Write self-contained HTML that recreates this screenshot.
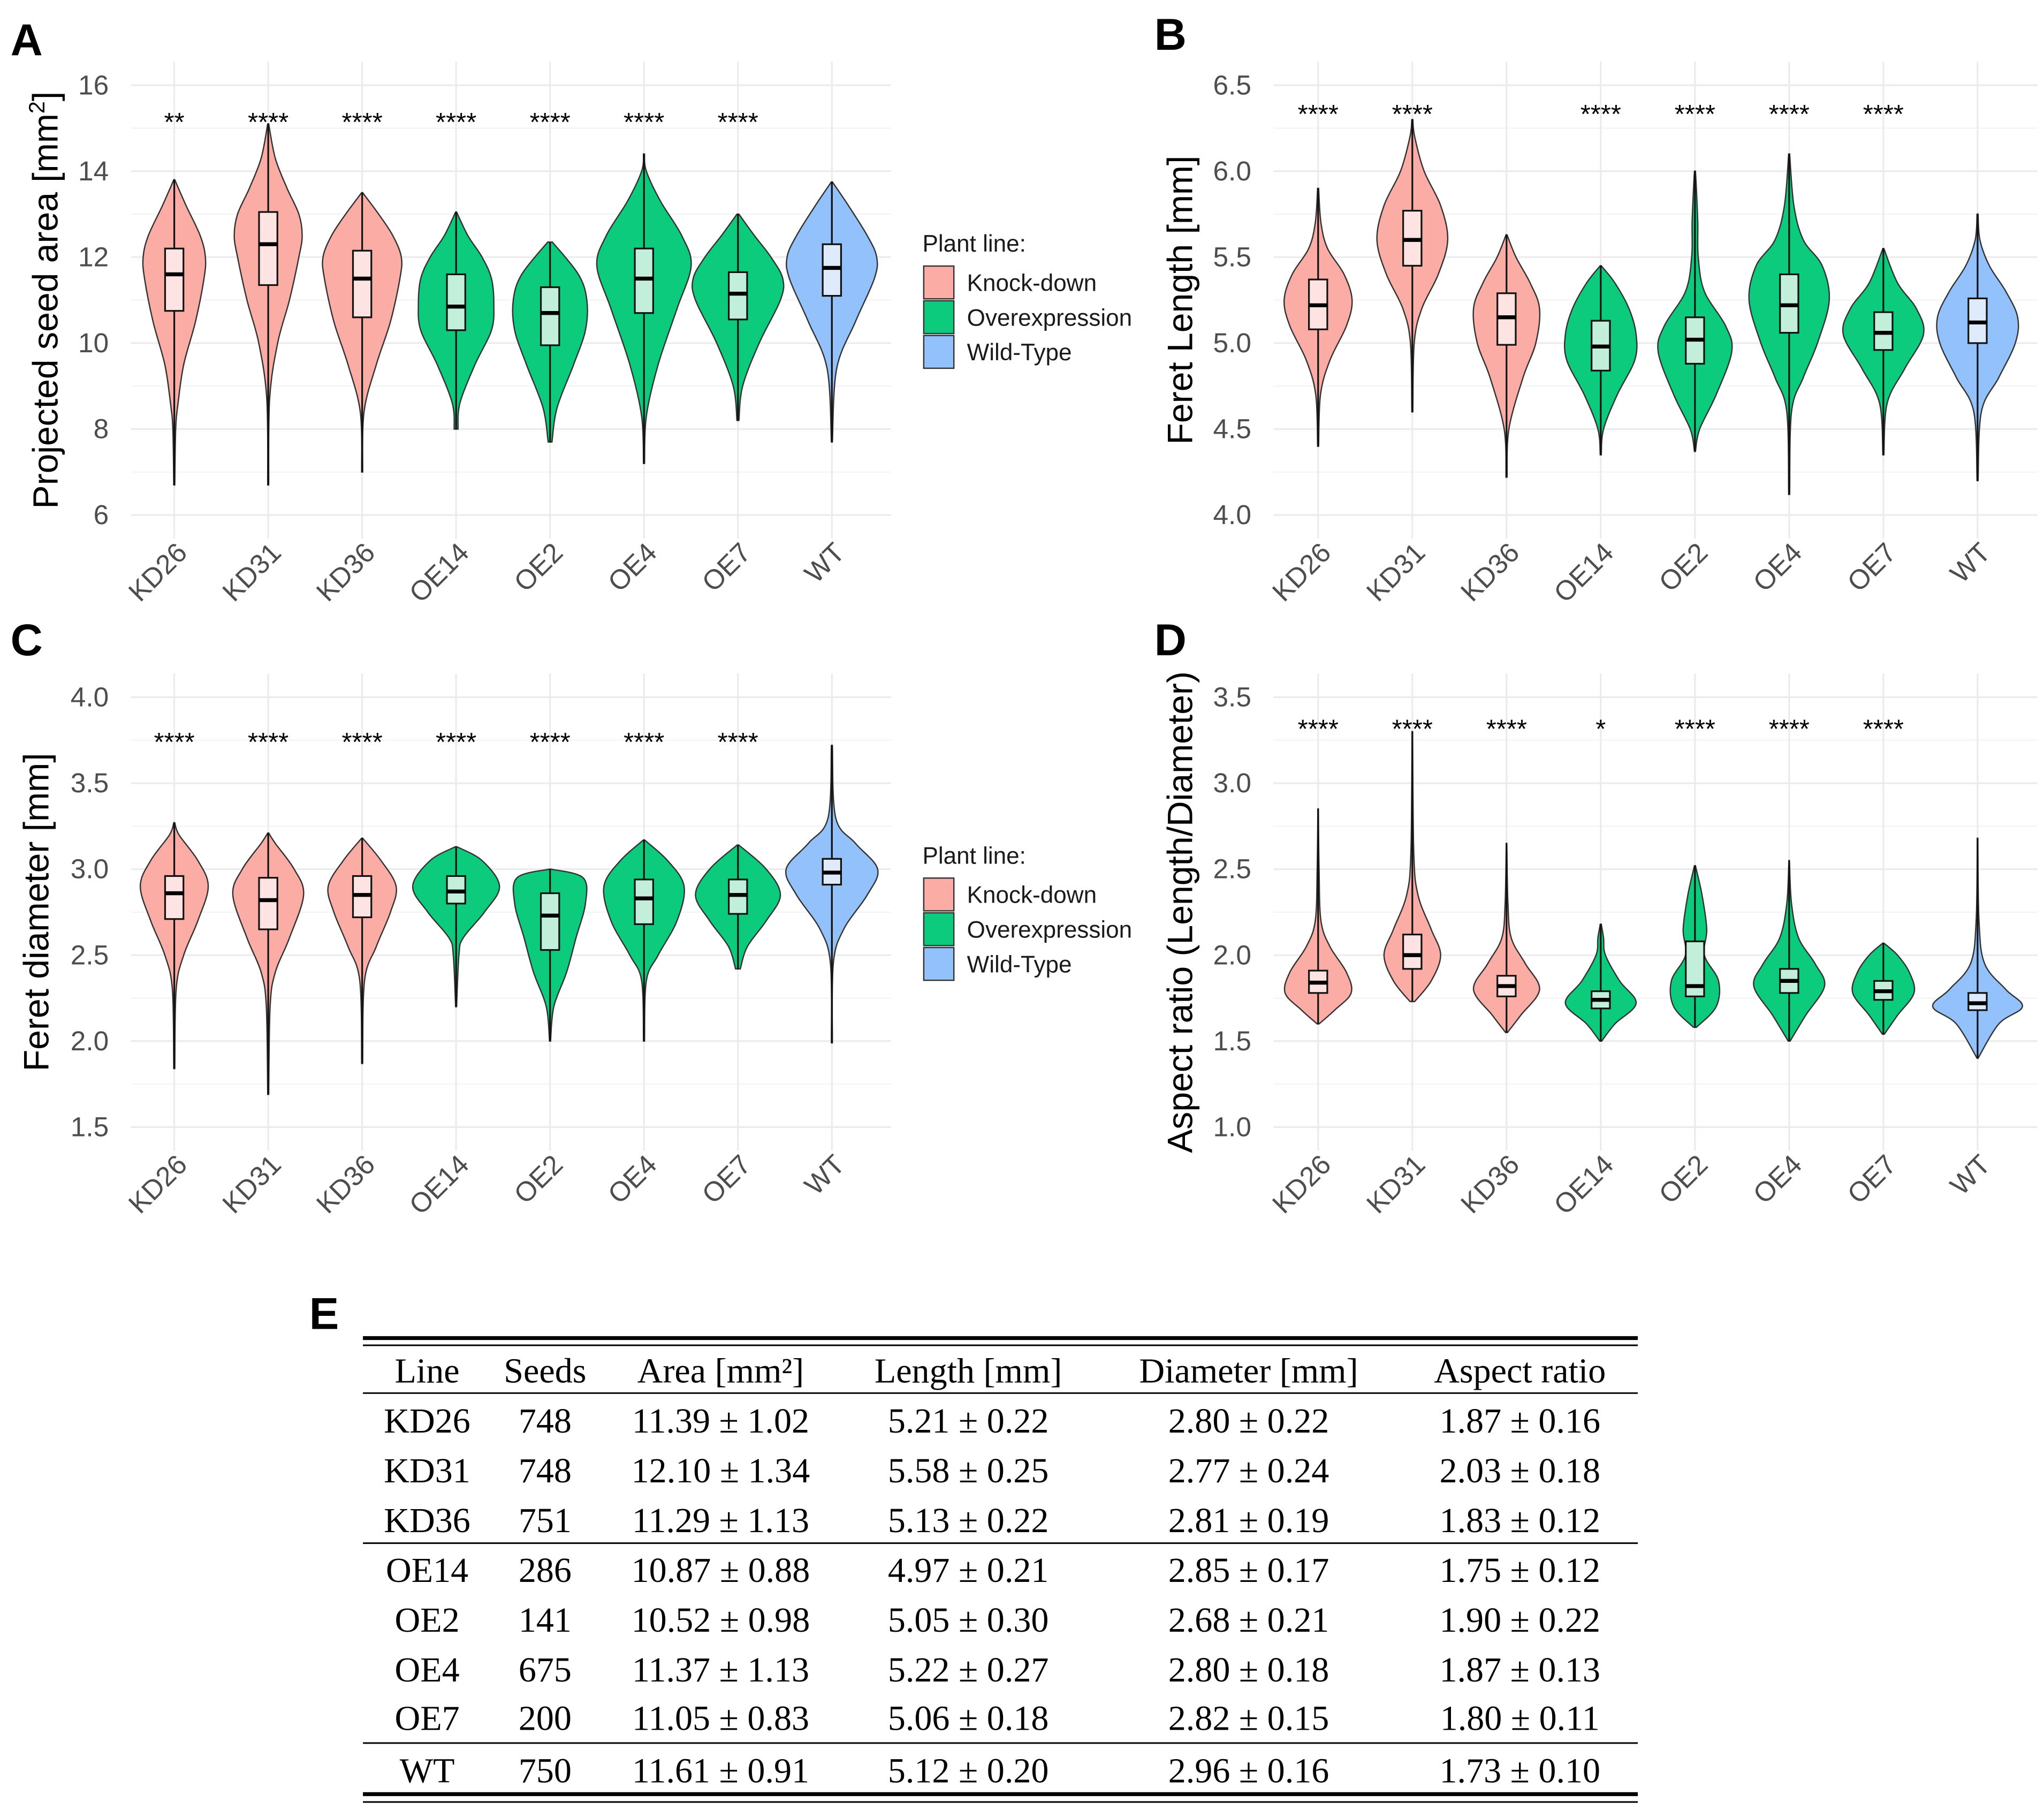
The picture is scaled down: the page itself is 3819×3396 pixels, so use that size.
<!DOCTYPE html>
<html><head><meta charset="utf-8"><style>
html,body{margin:0;padding:0;background:#fff}
svg{display:block}
.tk{font-family:"Liberation Sans",sans-serif;font-size:21px;fill:#4d4d4d}
.tt{font-family:"Liberation Sans",sans-serif;font-size:27px;fill:#000}
.lg{font-family:"Liberation Sans",sans-serif;font-size:18px;fill:#1a1a1a}
.pl{font-family:"Liberation Sans",sans-serif;font-size:34px;font-weight:bold;fill:#000}
.st{font-family:"Liberation Sans",sans-serif;font-size:20px;fill:#000}
.tb{font-family:"Liberation Serif",serif;font-size:27px;fill:#000}
</style></head><body>
<svg id="fig" width="3819" height="3396" viewBox="0 0 1560 1387.2" preserveAspectRatio="none" xmlns="http://www.w3.org/2000/svg"></svg>
<script>
const categories=["KD26","KD31","KD36","OE14","OE2","OE4","OE7","WT"];
const groups=["k","k","k","o","o","o","o","w"];
// Panel A
const aTicks=[6,8,10,12,14,16];
const aStars=["**","****","****","****","****","****","****",""];
const aMin=[6.7,6.7,7.0,8.0,7.7,7.2,8.2,7.7];
const aMax=[13.8,15.1,13.5,13.05,12.35,14.4,13.0,13.75];
const aQ1=[10.75,11.35,10.6,10.3,9.95,10.7,10.55,11.1];
const aMed=[11.6,12.3,11.5,10.85,10.7,11.5,11.15,11.75];
const aQ3=[12.2,13.05,12.15,11.6,11.3,12.2,11.65,12.3];
const aDens=[
[[6.7,0.01],[8,0.03],[8.6,0.08],[9.5,0.2],[10.5,0.45],[11.5,0.63],[12,0.66],[12.5,0.55],[13.2,0.25],[13.8,0.01]],
[[6.7,0.01],[8.7,0.03],[10,0.2],[11,0.45],[12,0.65],[12.5,0.72],[13,0.65],[13.6,0.4],[14.3,0.15],[15.1,0.01]],
[[7,0.01],[8.4,0.04],[9.5,0.3],[10.5,0.6],[11.5,0.8],[12,0.83],[12.5,0.65],[13,0.35],[13.5,0.01]],
[[8,0.04],[8.6,0.08],[9.5,0.4],[10.3,0.75],[10.9,0.8],[11.5,0.75],[12,0.55],[12.5,0.25],[13.05,0.01]],
[[7.7,0.04],[8.5,0.15],[9.5,0.5],[10.3,0.75],[11,0.78],[11.6,0.6],[12.35,0.05]],
[[7.2,0.01],[8.3,0.05],[9.5,0.3],[10.8,0.7],[11.8,1.0],[12.5,0.8],[13.3,0.35],[14,0.05],[14.4,0.01]],
[[8.2,0.02],[9,0.1],[10,0.45],[11,0.9],[11.5,0.95],[12,0.7],[12.5,0.35],[13,0.02]],
[[7.7,0.01],[9.4,0.1],[10.5,0.5],[11.5,0.9],[12,0.95],[12.5,0.75],[13.2,0.35],[13.75,0.01]]];
// Panel B
const bTicks=[4.0,4.5,5.0,5.5,6.0,6.5];
const bStars=["****","****","","****","****","****","****",""];
const bMin=[4.4,4.6,4.22,4.35,4.37,4.12,4.35,4.2];
const bMax=[5.9,6.3,5.63,5.45,6.0,6.1,5.55,5.75];
const bQ1=[5.08,5.45,4.99,4.84,4.88,5.06,4.96,5.0];
const bMed=[5.22,5.6,5.15,4.98,5.02,5.22,5.06,5.12];
const bQ3=[5.37,5.77,5.29,5.13,5.15,5.4,5.18,5.26];
const bDens=[
[[4.4,0.01],[4.7,0.05],[4.9,0.25],[5.1,0.6],[5.25,0.72],[5.4,0.55],[5.55,0.2],[5.7,0.06],[5.9,0.01]],
[[4.6,0.01],[5.0,0.04],[5.2,0.2],[5.4,0.55],[5.6,0.75],[5.8,0.6],[6.0,0.25],[6.2,0.05],[6.3,0.01]],
[[4.22,0.01],[4.5,0.05],[4.8,0.35],[5.0,0.62],[5.2,0.7],[5.35,0.5],[5.5,0.2],[5.63,0.01]],
[[4.35,0.01],[4.5,0.06],[4.7,0.35],[4.9,0.72],[5.05,0.75],[5.2,0.6],[5.35,0.3],[5.45,0.01]],
[[4.37,0.01],[4.5,0.1],[4.7,0.45],[4.95,0.78],[5.1,0.65],[5.3,0.2],[5.5,0.07],[5.7,0.06],[5.9,0.03],[6.0,0.01]],
[[4.12,0.01],[4.6,0.05],[4.8,0.3],[5.0,0.6],[5.25,0.85],[5.45,0.7],[5.6,0.3],[5.8,0.1],[6.1,0.01]],
[[4.35,0.01],[4.65,0.08],[4.85,0.45],[5.05,0.85],[5.2,0.7],[5.35,0.3],[5.55,0.01]],
[[4.2,0.01],[4.6,0.08],[4.8,0.45],[5.0,0.8],[5.15,0.85],[5.3,0.6],[5.45,0.25],[5.6,0.05],[5.75,0.01]]];
// Panel C
const cTicks=[1.5,2.0,2.5,3.0,3.5,4.0];
const cStars=["****","****","****","****","****","****","****",""];
const cMin=[1.84,1.69,1.87,2.2,2.0,2.0,2.42,1.99];
const cMax=[3.27,3.21,3.18,3.13,3.0,3.17,3.14,3.72];
const cQ1=[2.71,2.65,2.72,2.8,2.53,2.68,2.74,2.91];
const cMed=[2.86,2.82,2.85,2.87,2.73,2.83,2.85,2.98];
const cQ3=[2.96,2.95,2.96,2.96,2.86,2.94,2.94,3.06];
const cDens=[
[[1.84,0.01],[2.3,0.04],[2.5,0.2],[2.7,0.5],[2.9,0.72],[3.05,0.5],[3.2,0.1],[3.27,0.01]],
[[1.69,0.01],[2.2,0.04],[2.4,0.15],[2.6,0.45],[2.85,0.75],[3.0,0.55],[3.15,0.15],[3.21,0.01]],
[[1.87,0.01],[2.35,0.05],[2.55,0.3],[2.75,0.6],[2.9,0.72],[3.05,0.4],[3.18,0.01]],
[[2.2,0.01],[2.5,0.06],[2.6,0.15],[2.75,0.6],[2.9,0.92],[3.05,0.55],[3.13,0.02]],
[[2.0,0.01],[2.2,0.08],[2.4,0.35],[2.6,0.55],[2.8,0.75],[2.95,0.7],[3.0,0.02]],
[[2.0,0.01],[2.35,0.05],[2.5,0.3],[2.7,0.7],[2.9,0.85],[3.05,0.5],[3.17,0.01]],
[[2.42,0.05],[2.55,0.2],[2.7,0.6],[2.85,0.9],[3.0,0.6],[3.14,0.02]],
[[1.99,0.01],[2.45,0.03],[2.65,0.25],[2.85,0.75],[3.0,0.97],[3.15,0.5],[3.3,0.08],[3.72,0.01]]];
// Panel D
const dTicks=[1.0,1.5,2.0,2.5,3.0,3.5];
const dStars=["****","****","****","*","****","****","****",""];
const dMin=[1.6,1.73,1.55,1.5,1.58,1.5,1.54,1.4];
const dMax=[2.85,3.3,2.65,2.18,2.52,2.55,2.07,2.68];
const dQ1=[1.78,1.92,1.76,1.69,1.76,1.78,1.74,1.68];
const dMed=[1.84,2.0,1.82,1.74,1.82,1.85,1.79,1.72];
const dQ3=[1.91,2.12,1.88,1.79,2.08,1.92,1.85,1.78];
const dDens=[
[[1.6,0.02],[1.68,0.35],[1.78,0.7],[1.9,0.6],[2.05,0.25],[2.2,0.06],[2.5,0.02],[2.85,0.005]],
[[1.73,0.05],[1.85,0.4],[2.0,0.6],[2.15,0.4],[2.35,0.12],[2.6,0.03],[3.3,0.005]],
[[1.55,0.02],[1.65,0.3],[1.8,0.7],[1.95,0.4],[2.1,0.1],[2.3,0.03],[2.65,0.005]],
[[1.5,0.02],[1.6,0.3],[1.72,0.75],[1.85,0.4],[2.0,0.1],[2.1,0.06],[2.18,0.01]],
[[1.58,0.03],[1.7,0.45],[1.85,0.5],[2.0,0.2],[2.15,0.25],[2.35,0.15],[2.52,0.01]],
[[1.5,0.02],[1.65,0.35],[1.82,0.75],[1.95,0.55],[2.1,0.2],[2.3,0.05],[2.55,0.005]],
[[1.54,0.02],[1.65,0.3],[1.78,0.65],[1.9,0.55],[2.0,0.3],[2.07,0.01]],
[[1.4,0.01],[1.6,0.45],[1.7,0.95],[1.8,0.6],[1.95,0.15],[2.2,0.03],[2.68,0.005]]];
// Table
const tHeader=["Line","Seeds","Area [mm²]","Length [mm]","Diameter [mm]","Aspect ratio"];
const tRows=[
["KD26","748","11.39 ± 1.02","5.21 ± 0.22","2.80 ± 0.22","1.87 ± 0.16"],
["KD31","748","12.10 ± 1.34","5.58 ± 0.25","2.77 ± 0.24","2.03 ± 0.18"],
["KD36","751","11.29 ± 1.13","5.13 ± 0.22","2.81 ± 0.19","1.83 ± 0.12"],
["OE14","286","10.87 ± 0.88","4.97 ± 0.21","2.85 ± 0.17","1.75 ± 0.12"],
["OE2","141","10.52 ± 0.98","5.05 ± 0.30","2.68 ± 0.21","1.90 ± 0.22"],
["OE4","675","11.37 ± 1.13","5.22 ± 0.27","2.80 ± 0.18","1.87 ± 0.13"],
["OE7","200","11.05 ± 0.83","5.06 ± 0.18","2.82 ± 0.15","1.80 ± 0.11"],
["WT","750","11.61 ± 0.91","5.12 ± 0.20","2.96 ± 0.16","1.73 ± 0.10"]];

const NS="http://www.w3.org/2000/svg";
const svg=document.getElementById('fig');
function mk(tag,attrs,parent,txt){const e=document.createElementNS(NS,tag);for(const k in attrs)e.setAttribute(k,attrs[k]);if(txt!==undefined)e.textContent=txt;(parent||svg).appendChild(e);return e;}
const fill={k:"#fbaca5",o:"#0ccb7c",w:"#93c1fb"};
const boxFill={k:"#fde3e1",o:"#c2efd9",w:"#dfeafd"};
function smooth(pts){let d="M"+pts[0][0]+","+pts[0][1];for(let i=0;i<pts.length-1;i++){const p0=pts[Math.max(i-1,0)],p1=pts[i],p2=pts[i+1],p3=pts[Math.min(i+2,pts.length-1)];const c1=[p1[0]+(p2[0]-p0[0])/6,p1[1]+(p2[1]-p0[1])/6],c2=[p2[0]-(p3[0]-p1[0])/6,p2[1]-(p3[1]-p1[1])/6];d+="C"+c1[0]+","+c1[1]+" "+c2[0]+","+c2[1]+" "+p2[0]+","+p2[1];}return d;}

function panel(o){
  const g=mk('g',{});
  
  
  const t0=o.ticks[0],t1=o.ticks[o.ticks.length-1];
  const ys=v=>o.yBot+(v-t0)*(o.yTop-o.yBot)/(t1-t0);
  const xs=i=>o.x0+i*o.dx;
  for(let i=0;i<o.ticks.length-1;i++){const m=(o.ticks[i]+o.ticks[i+1])/2;mk('line',{x1:o.pl,x2:o.pr,y1:ys(m),y2:ys(m),stroke:"#f2f2f2","stroke-width":0.8},g);}
  o.ticks.forEach(t=>{const l=mk('line',{x1:o.pl,x2:o.pr,y1:ys(t),y2:ys(t),stroke:"#ebebeb","stroke-width":1.3},g);
    const tx=mk('text',{x:o.pl-17,y:ys(t)+7,"text-anchor":"end",class:"tk"},g,o.dec?t.toFixed(1):String(t));});
  categories.forEach((c,i)=>{mk('line',{x1:xs(i),x2:xs(i),y1:o.yTop-18,y2:o.yBot+18,stroke:"#ebebeb","stroke-width":1.3},g);
    const ax=xs(i)+11,ay=o.yBot+30;
    const tx=mk('text',{x:ax,y:ay,"text-anchor":"end",class:"tk",transform:`rotate(-45 ${ax} ${ay})`},g,c);});
  const yt=mk('text',{x:o.titleX,y:(o.yTop+o.yBot)/2,"text-anchor":"middle",class:"tt",transform:`rotate(-90 ${o.titleX} ${(o.yTop+o.yBot)/2})`},g);
  
  yt.innerHTML=o.title;
  categories.forEach((c,i)=>{
    const cx=xs(i),dens=o.dens[i],W=36;
    const right=dens.map(k=>[cx+k[1]*W,ys(k[0])]);
    const left=dens.slice().reverse().map(k=>[cx-k[1]*W,ys(k[0])]);
    let d=smooth(right)+"L"+left[0][0]+","+left[0][1]+smooth(left).replace(/^M[^C]*/,"")+"Z";
    const v=mk('path',{d:d,fill:fill[groups[i]],stroke:"#333","stroke-width":1},g);
    
    mk('line',{x1:cx,x2:cx,y1:ys(o.min[i]),y2:ys(o.max[i]),stroke:"#111","stroke-width":1.3},g);
    const b=mk('rect',{x:cx-7,y:ys(o.q3[i]),width:14,height:ys(o.q1[i])-ys(o.q3[i]),fill:boxFill[groups[i]],stroke:"#111","stroke-width":1.3},g);
    
    mk('line',{x1:cx-7,x2:cx+7,y1:ys(o.med[i]),y2:ys(o.med[i]),stroke:"#000","stroke-width":3},g);
    if(o.stars[i]){const s=mk('text',{x:cx,y:o.starY,"text-anchor":"middle",class:"st"},g,o.stars[i]);}
  });
  const pl=mk('text',{x:o.lblX,y:o.lblY,class:"pl"},g,o.letter);
  if(o.legY){
    const lg=mk('g',{},g);
    mk('text',{x:704,y:o.legY,class:"lg"},lg,"Plant line:");
    [["k","Knock-down"],["o","Overexpression"],["w","Wild-Type"]].forEach((e,j)=>{
      const ge=mk('g',{},lg);
      mk('rect',{x:705,y:o.legY+11+j*26.5,width:23,height:25,fill:fill[e[0]],stroke:"#333","stroke-width":1},ge);
      mk('text',{x:738,y:o.legY+30+j*26.5,class:"lg"},ge,e[1]);});
  }
}
panel({name:"panel-a",letter:"A",lblX:8,lblY:42,ticks:aTicks,yTop:65,yBot:393,x0:133,dx:71.7,pl:100,pr:680,titleX:44,title:'Projected seed area [mm<tspan dy="-10" font-size="17">2</tspan><tspan dy="10">]</tspan>',min:aMin,max:aMax,q1:aQ1,med:aMed,q3:aQ3,dens:aDens,stars:aStars,starY:100,legY:192,dec:false});
panel({name:"panel-b",letter:"B",lblX:881,lblY:38,ticks:bTicks,yTop:65,yBot:393,x0:1006,dx:71.9,pl:972,pr:1555,titleX:910,title:'Feret Length [mm]',min:bMin,max:bMax,q1:bQ1,med:bMed,q3:bQ3,dens:bDens,stars:bStars,starY:94,dec:true});
panel({name:"panel-c",letter:"C",lblX:8,lblY:500,ticks:cTicks,yTop:532,yBot:860,x0:133,dx:71.7,pl:100,pr:680,titleX:37,title:'Feret diameter [mm]',min:cMin,max:cMax,q1:cQ1,med:cMed,q3:cQ3,dens:cDens,stars:cStars,starY:573,legY:659,dec:true});
panel({name:"panel-d",letter:"D",lblX:881,lblY:500,ticks:dTicks,yTop:532,yBot:860,x0:1006,dx:71.9,pl:972,pr:1555,titleX:910,title:'Aspect ratio (Length/Diameter)',min:dMin,max:dMax,q1:dQ1,med:dMed,q3:dQ3,dens:dDens,stars:dStars,starY:563,dec:true});

const tg=mk('g',{});
const el=mk('text',{x:236,y:1014,class:"pl"},tg,"E");
const colX=[326,416,550,739,953,1160];
function rule(y,w){mk('line',{x1:277,x2:1250,y1:y,y2:y,stroke:"#000","stroke-width":w},tg);}
rule(1021,3);rule(1026.5,1.2);rule(1063,1.2);rule(1177.5,1.2);rule(1330,1.2);rule(1369,3);rule(1375,1.2);
tHeader.forEach((h,j)=>{const t=mk('text',{x:colX[j],y:1055,"text-anchor":"middle",class:"tb"},tg,h);});
const rowY=[1093,1131,1169,1207,1245,1283,1320,1360];
tRows.forEach((r,i)=>r.forEach((c,j)=>{const t=mk('text',{x:colX[j],y:rowY[i],"text-anchor":"middle",class:"tb"},tg,c);}));
</script>
</body></html>
